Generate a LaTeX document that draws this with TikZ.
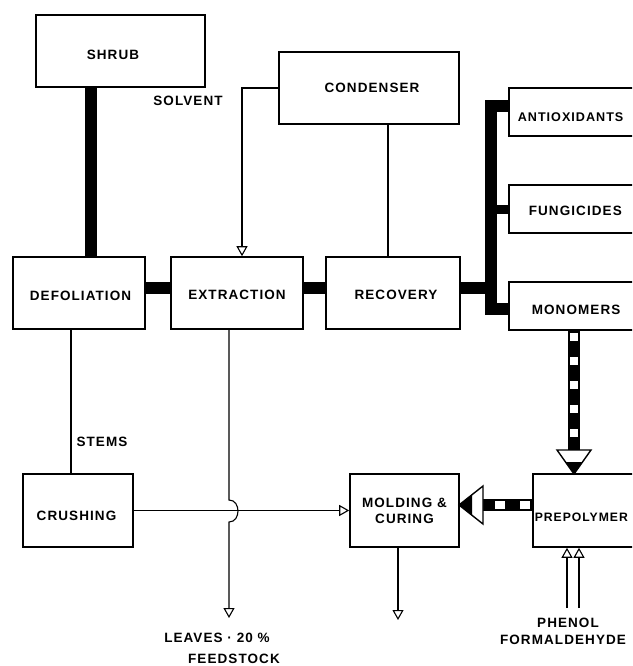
\documentclass[tikz,border=0pt]{standalone}
\usepackage{fontspec}
\newfontfamily\lab[LetterSpace=8]{Liberation Sans}
\usetikzlibrary{arrows.meta}
\begin{document}
\begin{tikzpicture}[x=1pt,y=-1pt,
  txt/.style={font=\lab\bfseries\fontsize{13.5}{16}\selectfont},
  box/.style={draw, line width=1.6pt, inner sep=0pt, fill=white, txt, align=center},
  low/.style={text depth=0pt, text height=#1},
  rbox/.style={box, anchor=west, align=left, minimum height=48pt},
  bar/.style={line width=12pt},
  flow/.style={line width=1.1pt},
  tri/.style={-{Triangle[open,width=11pt,length=10pt,line width=1.1pt]}},
  lbl/.style={txt, inner sep=0pt},
  head/.style={draw, line width=1.4pt, fill=white, line join=miter}
]
\useasboundingbox (0,0) rectangle (632,666);
\clip (0,0) rectangle (632,666);

% coordinates for connector positions
\coordinate (busx) at (491,0);
\coordinate (stx) at (574,0);
\coordinate (cx) at (388,0);
\coordinate (lv) at (229,618);
\coordinate (mo) at (398,620);
\coordinate (ph1) at (567,608);
\coordinate (ph2) at (579,608);
\coordinate (vhead) at (574,450);
\coordinate (hhead) at (483,505);

% thick bars (drawn first)
\draw[bar] (91,87) -- (91,257);
\draw[bar] (145,288) -- (171,288);
\draw[bar] (303,288) -- (326,288);
\draw[bar] (460,288) -- (491,288);
\draw[bar, line join=miter] (508,106) -- (491,106) -- (491,309) -- (508,309);
\draw[line width=9pt] (491,209) -- (508,209);

% boxes
\node[box, low=17.7pt, minimum width=169pt, minimum height=72pt] (shrub) at (120.5,51) {SHRUB\hspace*{15pt}};
\node[box, low=9.7pt, minimum width=180pt, minimum height=72pt] (condenser) at (369,88) {\hspace*{6pt}CONDENSER};
\node[box, low=15.7pt, minimum width=132pt, minimum height=72pt] (defol) at (79,293) {\hspace*{3pt}DEFOLIATION};
\node[box, low=13.7pt, minimum width=132pt, minimum height=72pt] (extract) at (237,293) {EXTRACTION};
\node[box, low=13.7pt, minimum width=134pt, minimum height=72pt] (recovery) at (393,293) {\hspace*{6pt}RECOVERY};
\node[box, low=20.7pt, minimum width=110pt, minimum height=73pt] (crush) at (78,510.5) {CRUSHING\hspace*{3pt}};
\node[box, minimum width=109pt, minimum height=73pt] (mold) at (404.5,510.5) {MOLDING \&\\CURING};
\node[rbox, low=19.7pt, inner xsep=9pt, text width=132pt,
      font=\lab\bfseries\fontsize{12.6}{15}\selectfont] (antiox) at (508,112) {ANTIOXIDANTS};
\node[rbox, low=13.7pt, inner xsep=20pt, text width=110pt] (fungi) at (508,209) {FUNGICIDES};
\node[rbox, low=17.7pt, inner xsep=23pt, text width=104pt] (monom) at (508,306) {MONOMERS};
\node[rbox, low=22.7pt, inner xsep=2pt, text width=146pt, minimum height=73pt,
      font=\lab\bfseries\fontsize{12.2}{15}\selectfont] (prepol) at (532,510.5) {PREPOLYMER};

% thin connectors
\draw[flow, tri] (condenser.west) -| ([xshift=5pt]extract.north);
\draw[flow] (condenser.south -| cx) -- (recovery.north -| cx);
\draw[flow] (defol.south -| 71,0) -- (crush.north -| 71,0);
\draw[flow, tri] (crush.east) -- (mold.west);
\draw[flow, tri] (extract.south -| lv) -- (229,500) .. controls (241,500) and (241,522) .. (229,522) -- (lv);
\draw[flow, tri] (mold.south -| mo) -- (mo);
\draw[flow, tri] (ph1) -- (ph1 |- prepol.south);
\draw[flow, tri] (ph2) -- (ph2 |- prepol.south);

% striped vertical arrow monomers -> prepolymer
\draw[bar] (monom.south -| stx) -- (vhead);
\foreach \y in {333,357,381,405,429} \fill[white] (570,\y) rectangle (578,\y+8);
\draw[head] (557,450) -- (591,450) -- (574,474) -- cycle;
\fill (565.5,462) -- (582.5,462) -- (574,474) -- cycle;

% striped horizontal arrow prepolymer -> molding
\draw[bar] (prepol.west |- hhead) -- (hhead);
\foreach \x in {495,520} \fill[white] (\x,501) rectangle (\x+10,509);
\draw[head] (483,486) -- (483,524) -- (459,505) -- cycle;
\fill (472,494.7) -- (472,515.3) -- (459,505) -- cycle;

% labels
\node[lbl] (solvent) at (188,101) {SOLVENT};
\node[lbl] (stems) at (102,442) {STEMS};
\node[lbl] (leaves) at (217,638) {LEAVES · 20 \%};
\node[lbl] (feed) at (234,659) {FEEDSTOCK};
\node[lbl] (phenol) at (568,623) {PHENOL};
\node[lbl] (formal) at (563,640) {FORMALDEHYDE};
\end{tikzpicture}
\end{document}
